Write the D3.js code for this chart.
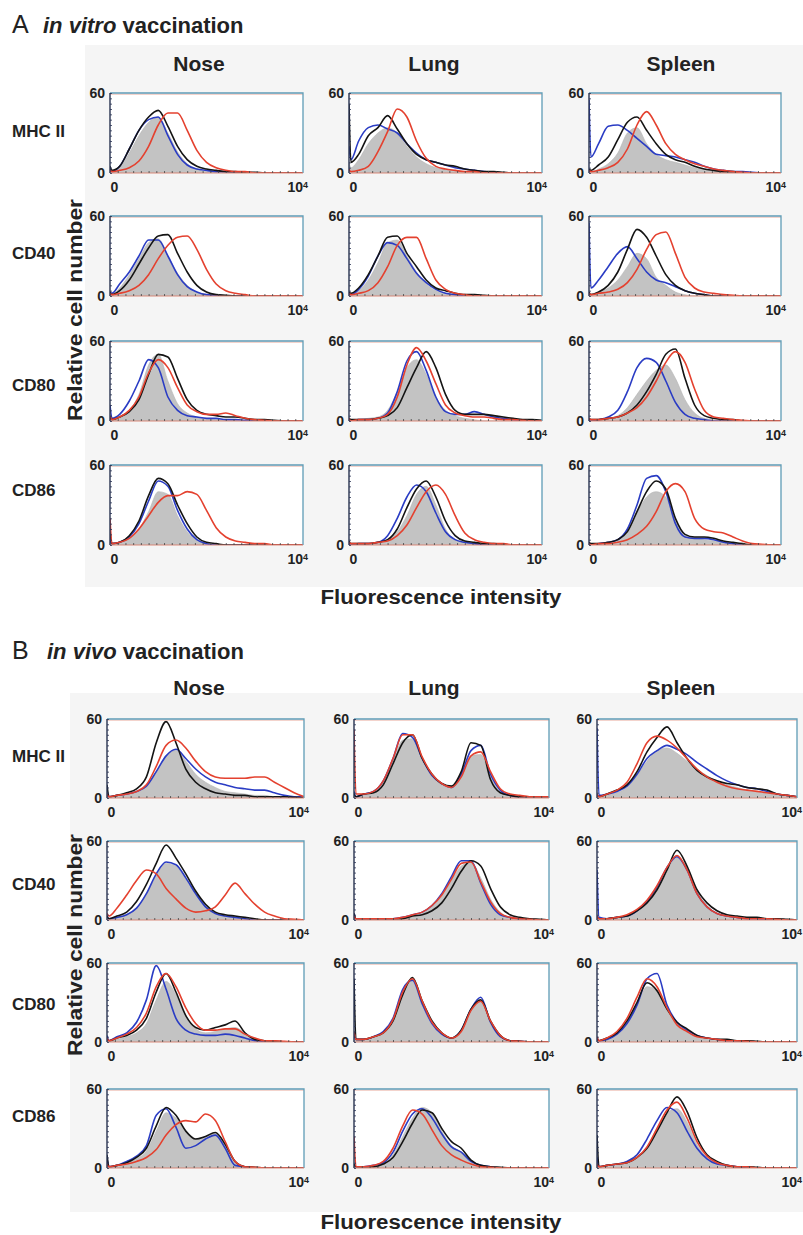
<!DOCTYPE html>
<html>
<head>
<meta charset="utf-8">
<script src="https://d3js.org/d3.v7.min.js"></script>
<style>
body { margin: 0; background: #fff; }
svg text { font-family: "Liberation Sans", Arial, Helvetica, sans-serif; }
</style>
</head>
<body>
<div id="chart"></div>
<script>
// fluorescence channel (% of the 10^0 - 10^4 range) for every histogram value
var bins = [0,1,5,10,15,20,25,30,35,40,45,50,55,60,65,70,75,80,85,90,95,100];
var organs = ["Nose", "Lung", "Spleen"];
var markers = ["MHC II", "CD40", "CD80", "CD86"];
var seriesKeys = ["grey", "black", "blue", "red"];
var yTicks = [0, 60];
var xTicks = [0, 100];
var xTickLabels = ["0", "10"];   // the last one gets a superscript 4

// ---- A: in vitro vaccination, each panel = [grey, black, blue, red] ----
var vitro_nose_mhc = [
  [2,1,4,15,28,38,42,30,16,7,3,1,1,0,0,0,0,0,0,0,0,0],
  [5,2,5,18,32,42,47,35,20,10,5,3,2,1,1,0.5,0.5,0,0,0,0,0],
  [3,1,5,18,32,40,42,28,14,6,3,2,1,1,0.5,0,0,0,0,0,0,0],
  [2,1,2,4,9,20,36,45,45,32,17,8,4,2,1,1,0,0,0,0,0,0]];
var vitro_lung_mhc = [
  [8,4,10,22,30,34,30,20,12,7,4,3,2,1,1,0,0,0,0,0,0,0],
  [52,8,14,28,34,43,33,22,14,10,8,6,5,3,2,1,1,0.5,0,0,0,0],
  [20,10,24,34,36,33,30,22,15,10,8,6,4,3,2,1,0.5,0,0,0,0,0],
  [3,1,2,5,16,31,48,42,24,11,5,3,2,1,1,0,0,0,0,0,0,0]];
var vitro_spleen_mhc = [
  [2,1,3,7,15,30,34,22,14,10,8,6,4,3,2,1,0.5,0,0,0,0,0],
  [3,2,6,12,25,38,42,32,22,14,10,8,5,3,2,1,1,0,0,0,0,0],
  [55,12,22,35,36,32,26,20,14,13,12,10,8,5,3,2,1,1,0.5,0,0,0],
  [2,1,2,4,8,18,36,46,36,22,14,10,7,5,3,2,1,0.5,0,0,0,0]];
var vitro_nose_cd40 = [
  [2,1,6,16,28,40,43,30,17,8,3,1,0,0,0,0,0,0,0,0,0,0],
  [3,1,4,12,24,36,45,46,32,18,8,3,1,0.5,0,0,0,0,0,0,0,0],
  [3,2,9,18,30,42,42,30,16,7,3,1,0.5,0,0,0,0,0,0,0,0,0],
  [2,1,2,4,8,16,28,38,44,45,35,20,9,4,2,1,0,0,0,0,0,0]];
var vitro_lung_cd40 = [
  [2,1,4,12,25,40,42,30,18,9,4,2,1,0,0,0,0,0,0,0,0,0],
  [3,2,6,16,30,44,45,32,22,12,6,4,2,1,1,0.5,0,0,0,0,0,0],
  [2,1,5,15,30,40,38,28,17,10,5,2,1,0,0,0,0,0,0,0,0,0],
  [2,1,2,4,10,22,38,44,44,28,12,5,2,1,0,0,0,0,0,0,0,0]];
var vitro_spleen_cd40 = [
  [2,1,3,6,12,22,32,28,14,8,3,1,0,0,0,0,0,0,0,0,0,0],
  [3,1,3,8,18,35,50,44,30,16,8,4,2,1,0,0,0,0,0,0,0,0],
  [55,6,12,22,32,37,28,18,12,10,7,4,2,1,0,0,0,0,0,0,0,0],
  [2,1,2,3,5,10,20,35,46,48,32,14,6,3,2,1,0.5,0,0,0,0,0]];
var vitro_nose_cd80 = [
  [3,1,3,8,20,42,50,30,13,6,3,2,1,1,0.5,0,0,0,0,0,0,0],
  [3,1,3,7,16,35,50,48,32,16,8,5,4,3,3,2,1,1,0.5,0,0,0],
  [12,2,5,15,30,46,40,18,8,4,3,2,2,1,1,0.5,0,0,0,0,0,0],
  [4,1,3,8,18,36,46,40,25,12,7,5,5,6,4,2,1,0.5,0,0,0,0]];
var vitro_lung_cd80 = [
  [1,0,1,2,3,8,22,40,46,35,18,8,4,2,1,0,0,0,0,0,0,0],
  [2,1,1,1,2,4,10,25,40,52,40,20,8,5,5,5,4,3,2,1,1,0.5],
  [1,0,1,1,2,6,22,45,52,38,18,7,5,5,7,5,3,2,1,0.5,0,0],
  [2,0,1,1,2,5,18,42,55,45,28,12,6,4,3,3,2,1,1,0.5,0,0]];
var vitro_spleen_cd80 = [
  [1,0,1,2,4,10,20,30,38,42,32,16,6,2,1,0,0,0,0,0,0,0],
  [2,1,1,2,3,6,12,22,35,50,54,32,12,4,2,1,1,0,0,0,0,0],
  [1,0,1,3,8,22,40,47,44,30,14,5,2,1,0,0,0,0,0,0,0,0],
  [2,1,1,2,3,6,10,18,30,44,52,44,24,8,3,2,1,0.5,0,0,0,0]];
var vitro_nose_cd86 = [
  [2,1,2,5,12,25,40,38,22,10,4,1,0,0,0,0,0,0,0,0,0,0],
  [10,1,2,7,18,37,50,46,30,16,6,2,1,0,0,0,0,0,0,0,0,0],
  [3,1,2,6,16,33,48,44,26,12,4,1,0,0,0,0,0,0,0,0,0,0],
  [20,1,2,5,12,22,32,37,37,40,38,26,13,6,3,2,1,1,0,0,0,0]];
var vitro_lung_cd86 = [
  [1,0,1,1,2,4,10,22,38,44,30,12,4,2,1,0,0,0,0,0,0,0],
  [3,1,1,1,2,4,12,28,42,48,36,18,7,3,2,1,1,0.5,0,0,0,0],
  [1,0,1,1,2,7,20,36,45,40,24,10,4,2,1,0,0,0,0,0,0,0],
  [2,1,1,1,2,3,7,15,28,40,45,38,22,9,4,2,1,1,0,0,0,0]];
var vitro_spleen_cd86 = [
  [1,0,1,2,4,10,24,36,40,36,18,8,5,4,3,2,1,0,0,0,0,0],
  [2,1,1,2,4,10,25,40,48,42,20,8,6,6,5,3,2,1,0,0,0,0],
  [1,0,1,2,4,12,30,50,52,40,16,6,5,5,4,2,1,0,0,0,0,0],
  [1,0,1,1,2,4,8,14,25,40,46,40,20,12,10,9,6,3,1,0.5,0,0]];

// ---- B: in vivo vaccination ----
var vivo_nose_mhc = [
  [2,1,2,3,5,9,20,32,36,28,18,12,8,5,4,3,2,2,1,1,0.5,0],
  [10,1,2,4,7,16,42,58,42,22,12,7,4,3,2,2,1,1,1,1,0.5,0],
  [3,1,2,3,5,9,20,32,37,30,22,16,12,10,8,7,6,6,4,2,1,1],
  [3,1,2,3,5,10,24,40,44,38,28,20,16,15,15,15,16,16,12,8,4,1]];
var vivo_lung_mhc = [
  [2,1,3,4,12,28,44,45,29,17,10,8,16,32,33,16,5,2,1,1,1,0.5],
  [3,1,3,4,10,26,42,48,30,18,11,9,20,42,40,14,4,2,1,1,1,1],
  [5,1,3,5,13,30,49,46,30,17,11,8,18,36,40,18,6,2,1,1,1,1],
  [52,3,3,5,13,30,48,48,31,18,11,8,16,32,35,20,7,3,2,1,1,1]];
var vivo_spleen_mhc = [
  [2,1,2,4,8,17,28,36,38,34,28,22,17,13,10,8,6,5,4,3,1,1],
  [3,1,3,6,10,20,35,46,54,42,30,21,16,13,11,10,8,7,6,3,2,1],
  [53,2,3,5,9,18,30,36,40,37,33,27,22,17,13,10,8,7,5,3,2,1],
  [3,1,3,6,12,26,42,47,44,38,30,22,16,12,9,7,6,5,4,3,2,1]];
var vivo_nose_cd40 = [
  [2,1,2,4,9,19,34,43,41,31,20,11,5,3,2,1,0,0,0,0,0,0],
  [3,1,3,6,14,27,43,57,47,35,22,12,6,4,3,2,1,0,0,0,0,0],
  [3,1,2,4,9,20,35,44,42,32,20,10,5,3,2,1,0,0,0,0,0,0],
  [5,3,9,19,30,38,35,24,16,9,6,7,10,19,28,20,12,6,3,1,0.5,0]];
var vivo_lung_cd40 = [
  [2,1,1,1,1,1,2,3,5,10,18,30,41,44,32,16,6,2,1,0.5,0,0],
  [5,1,1,1,1,1,1,3,4,7,13,24,37,45,41,24,10,4,2,1,0.5,0],
  [5,1,1,1,1,1,2,4,6,11,20,33,45,45,28,12,4,2,1,0.5,0,0],
  [3,1,1,1,1,1,2,4,6,11,19,31,43,44,29,14,5,2,1,0.5,0,0]];
var vivo_spleen_cd40 = [
  [2,1,1,2,3,7,13,23,38,47,40,22,11,5,3,2,1,1,0,0,0,0],
  [3,1,1,2,3,7,13,23,38,53,41,23,13,7,4,3,2,2,1,1,0.5,0],
  [38,2,1,2,3,7,14,25,40,48,38,20,10,5,3,2,1,1,0,0,0,0],
  [3,1,1,2,4,8,15,26,40,49,38,20,10,5,3,2,1,1,1,0.5,0,0]];
var vivo_nose_cd80 = [
  [2,1,2,4,7,14,32,46,36,20,10,7,8,10,11,7,3,1,0.5,0,0,0],
  [3,1,3,5,9,18,38,52,38,20,11,9,11,13,16,7,2,1,0.5,0,0,0],
  [5,1,4,7,15,32,58,40,18,9,6,5,5,6,5,3,1,0.5,0,0,0,0],
  [3,1,3,6,11,22,42,52,42,26,14,9,9,10,10,6,3,1,1,0.5,0,0]];
var vivo_lung_cd80 = [
  [2,1,2,4,7,16,36,47,30,15,7,3,8,24,31,15,4,1,0.5,0,0,0],
  [48,2,2,4,7,16,36,49,31,16,7,3,9,25,32,16,5,1,0.5,0,0,0],
  [5,2,2,4,8,18,40,47,29,14,6,3,9,25,34,15,4,1,0.5,0,0,0],
  [8,2,2,4,7,17,38,48,31,15,7,3,8,24,31,16,5,1,0.5,0,0,0]];
var vivo_spleen_cd80 = [
  [2,1,2,6,15,28,42,40,25,14,8,4,2,1,1,0,0,0,0,0,0,0],
  [3,1,3,7,16,30,45,39,25,15,10,5,3,2,2,1,1,0.5,0,0,0,0],
  [3,1,2,6,14,28,48,52,28,15,9,5,3,2,1,1,0,0,0,0,0,0],
  [4,1,3,8,18,34,48,42,26,13,8,4,3,2,1,1,0.5,0,0,0,0,0]];
var vivo_nose_cd86 = [
  [2,1,2,4,7,13,28,42,38,28,22,24,26,18,5,1,0,0,0,0,0,0],
  [10,1,2,4,8,15,32,46,40,28,22,24,27,18,5,1,0.5,0,0,0,0,0],
  [8,1,2,5,9,17,40,45,31,15,17,22,25,15,2,1,0,0,0,0,0,0],
  [3,1,2,3,5,8,14,25,33,36,35,41,36,20,5,1,0.5,0,0,0,0,0]];
var vivo_lung_cd86 = [
  [2,1,1,1,3,10,24,38,46,42,28,17,12,5,2,1,0,0,0,0,0,0],
  [3,1,1,1,3,8,20,34,44,42,30,20,15,6,2,1,0.5,0,0,0,0,0],
  [3,1,1,2,4,12,28,41,45,38,26,16,12,5,2,1,0,0,0,0,0,0],
  [24,1,1,2,5,15,32,44,41,29,17,10,6,3,1,0.5,0,0,0,0,0,0]];
var vivo_spleen_cd86 = [
  [2,1,1,2,4,8,16,30,42,45,35,18,8,4,2,1,0,0,0,0,0,0],
  [25,1,2,3,4,8,15,28,42,54,43,23,10,5,2,1,1,0.5,0,0,0,0],
  [8,1,2,3,5,10,22,36,46,42,28,15,7,3,2,1,0,0,0,0,0,0],
  [3,1,2,3,4,8,16,30,44,50,38,20,9,4,2,1,1,0,0,0,0,0]];

var vitro = [
  [vitro_nose_mhc, vitro_lung_mhc, vitro_spleen_mhc],
  [vitro_nose_cd40, vitro_lung_cd40, vitro_spleen_cd40],
  [vitro_nose_cd80, vitro_lung_cd80, vitro_spleen_cd80],
  [vitro_nose_cd86, vitro_lung_cd86, vitro_spleen_cd86]];
var vivo = [
  [vivo_nose_mhc, vivo_lung_mhc, vivo_spleen_mhc],
  [vivo_nose_cd40, vivo_lung_cd40, vivo_spleen_cd40],
  [vivo_nose_cd80, vivo_lung_cd80, vivo_spleen_cd80],
  [vivo_nose_cd86, vivo_lung_cd86, vivo_spleen_cd86]];

var colors = {grey: "#c3c3c3", black: "#141414", blue: "#2a3cc4", red: "#e4412f"};
var drawOrder = [2, 1, 3];  // blue, black, red lines over the grey fill

// page layout of the two blocks
var sections = [
  {letter: "A", italic: "in vitro", data: vitro, titleY: 33, italicX: 43,
   bg: [85, 45, 718, 542], colX: [110, 349, 589], colW: [193, 193, 192],
   rowY: [93, 216, 341, 465], h: 80, headX: [199, 434, 681], headY: 71,
   labelY: [137, 259, 391, 496], ylabY: 310, xlabY: 604},
  {letter: "B", italic: "in vivo", data: vivo, titleY: 659, italicX: 47,
   bg: [70, 693, 733, 519], colX: [107, 354, 597], colW: [197, 195, 200],
   rowY: [719, 841, 963, 1089], h: 79, headX: [199, 434, 681], headY: 695,
   labelY: [762, 890, 1010, 1122], ylabY: 945, xlabY: 1229}
];

var svg = d3.select("#chart").append("svg").attr("width", 803).attr("height", 1235);
svg.append("rect").attr("width", 803).attr("height", 1235).attr("fill", "#fff");

function drawPanel(g, series, x0, y0, w, h, id) {
    var x = d3.scaleLinear().domain([0, 100]).range([x0, x0 + w]);
    var y = d3.scaleLinear().domain([0, 60]).range([y0 + h, y0]);
    g.append("rect").attr("x", x0).attr("y", y0).attr("width", w).attr("height", h).attr("fill", "#fff");
    g.append("clipPath").attr("id", "clip" + id).append("rect")
        .attr("x", x0).attr("y", y0 - 1).attr("width", w).attr("height", h + 1);
    var plot = g.append("g").attr("clip-path", "url(#clip" + id + ")");

    var area = d3.area().x(function(d, i){ return x(bins[i]) }).y0(y(0)).y1(function(d){ return y(d) }).curve(d3.curveMonotoneX);
    var line = d3.line().x(function(d, i){ return x(bins[i]) }).y(function(d){ return y(d) }).curve(d3.curveMonotoneX);

    plot.append("path").datum(series[0]).attr("d", area)
        .attr("fill", colors.grey).attr("stroke", "#b3b3b3").attr("stroke-width", 0.6);
    for (var k of drawOrder){
        plot.append("path").datum(series[k]).attr("d", line)
            .attr("fill", "none").attr("stroke", colors[seriesKeys[k]])
            .attr("stroke-width", 1.6).attr("stroke-linejoin", "round");
    }

    // frame: teal top/right, pinkish fringe, dark left spine
    g.append("line").attr("x1", x0).attr("x2", x0 + w).attr("y1", y0 + 1.2).attr("y2", y0 + 1.2)
        .attr("stroke", "#eab0a2").attr("stroke-width", 0.8);
    g.append("path").attr("d", "M" + x0 + "," + y0 + "H" + (x0 + w) + "V" + (y0 + h))
        .attr("fill", "none").attr("stroke", "#5f9cb6").attr("stroke-width", 1.3);
    g.append("line").attr("x1", x0).attr("x2", x0 + w).attr("y1", y0 + h).attr("y2", y0 + h)
        .attr("stroke", "#d9897b").attr("stroke-width", 1.1);
    g.append("line").attr("x1", x0).attr("x2", x0).attr("y1", y0).attr("y2", y0 + h)
        .attr("stroke", "#27324f").attr("stroke-width", 1.4);

    // minor ticks along the spines
    g.append("g").attr("transform", "translate(" + x0 + ",0)")
        .call(d3.axisLeft(y).tickValues(d3.range(0, 61, 4)).tickSize(-2).tickFormat(""))
        .call(function(a){ a.select(".domain").remove() })
        .selectAll("line").attr("stroke", "#2b3555").attr("stroke-width", 0.8);
    g.append("g").attr("transform", "translate(0," + (y0 + h) + ")")
        .call(d3.axisBottom(x).tickValues(d3.range(4, 100, 4)).tickSize(-2).tickFormat(""))
        .call(function(a){ a.select(".domain").remove() })
        .selectAll("line").attr("stroke", "#444").attr("stroke-width", 0.8);

    // tick labels
    var ya = g.append("g").attr("transform", "translate(" + x0 + ",0)")
        .call(d3.axisLeft(y).tickValues(yTicks).tickSize(0).tickPadding(5));
    ya.select(".domain").remove();
    ya.selectAll("text").attr("font-size", 14).attr("font-weight", "bold").attr("fill", "#222");

    var xa = g.append("g").attr("transform", "translate(0," + (y0 + h) + ")")
        .call(d3.axisBottom(x).tickValues(xTicks).tickSize(0).tickPadding(9)
              .tickFormat(function(d, i){ return xTickLabels[i] }));
    xa.select(".domain").remove();
    xa.selectAll("text").attr("font-size", 14).attr("font-weight", "bold").attr("fill", "#222")
        .attr("text-anchor", "start")
        .attr("dx", function(d, i){ return i === 0 ? 0 : -16 });
    xa.selectAll(".tick").filter(function(d, i){ return i === xTicks.length - 1 })
        .select("text").append("tspan").attr("font-size", 9).attr("dy", "-0.45em").text("4");
}

var pid = 0;
sections.forEach(function(s){
    var g = svg.append("g");
    g.append("rect").attr("x", s.bg[0]).attr("y", s.bg[1]).attr("width", s.bg[2]).attr("height", s.bg[3])
        .attr("fill", "#f5f5f5");

    var t = g.append("text").attr("x", 12).attr("y", s.titleY).attr("fill", "#222");
    t.append("tspan").attr("font-size", 25).text(s.letter);
    t.append("tspan").attr("x", s.italicX).attr("font-size", 22).attr("font-weight", "bold")
        .attr("font-style", "italic").text(s.italic);
    t.append("tspan").attr("font-size", 22).attr("font-weight", "bold").text(" vaccination");

    organs.forEach(function(o, c){
        g.append("text").attr("x", s.headX[c]).attr("y", s.headY).attr("text-anchor", "middle")
            .attr("font-size", 21).attr("font-weight", "bold").attr("fill", "#222").text(o);
    });
    markers.forEach(function(m, r){
        g.append("text").attr("x", 12).attr("y", s.labelY[r])
            .attr("font-size", 17).attr("font-weight", "bold").attr("fill", "#222").text(m);
        organs.forEach(function(o, c){
            drawPanel(g, s.data[r][c], s.colX[c], s.rowY[r], s.colW[c], s.h, pid++);
        });
    });

    g.append("text").attr("transform", "translate(82," + s.ylabY + ") rotate(-90)")
        .attr("text-anchor", "middle").attr("font-size", 21).attr("font-weight", "bold").attr("fill", "#222")
        .attr("textLength", 222).attr("lengthAdjust", "spacingAndGlyphs").text("Relative cell number");
    g.append("text").attr("x", 441).attr("y", s.xlabY).attr("text-anchor", "middle")
        .attr("font-size", 20).attr("font-weight", "bold").attr("fill", "#222")
        .attr("textLength", 241).attr("lengthAdjust", "spacingAndGlyphs").text("Fluorescence intensity");
});
</script>
</body>
</html>
